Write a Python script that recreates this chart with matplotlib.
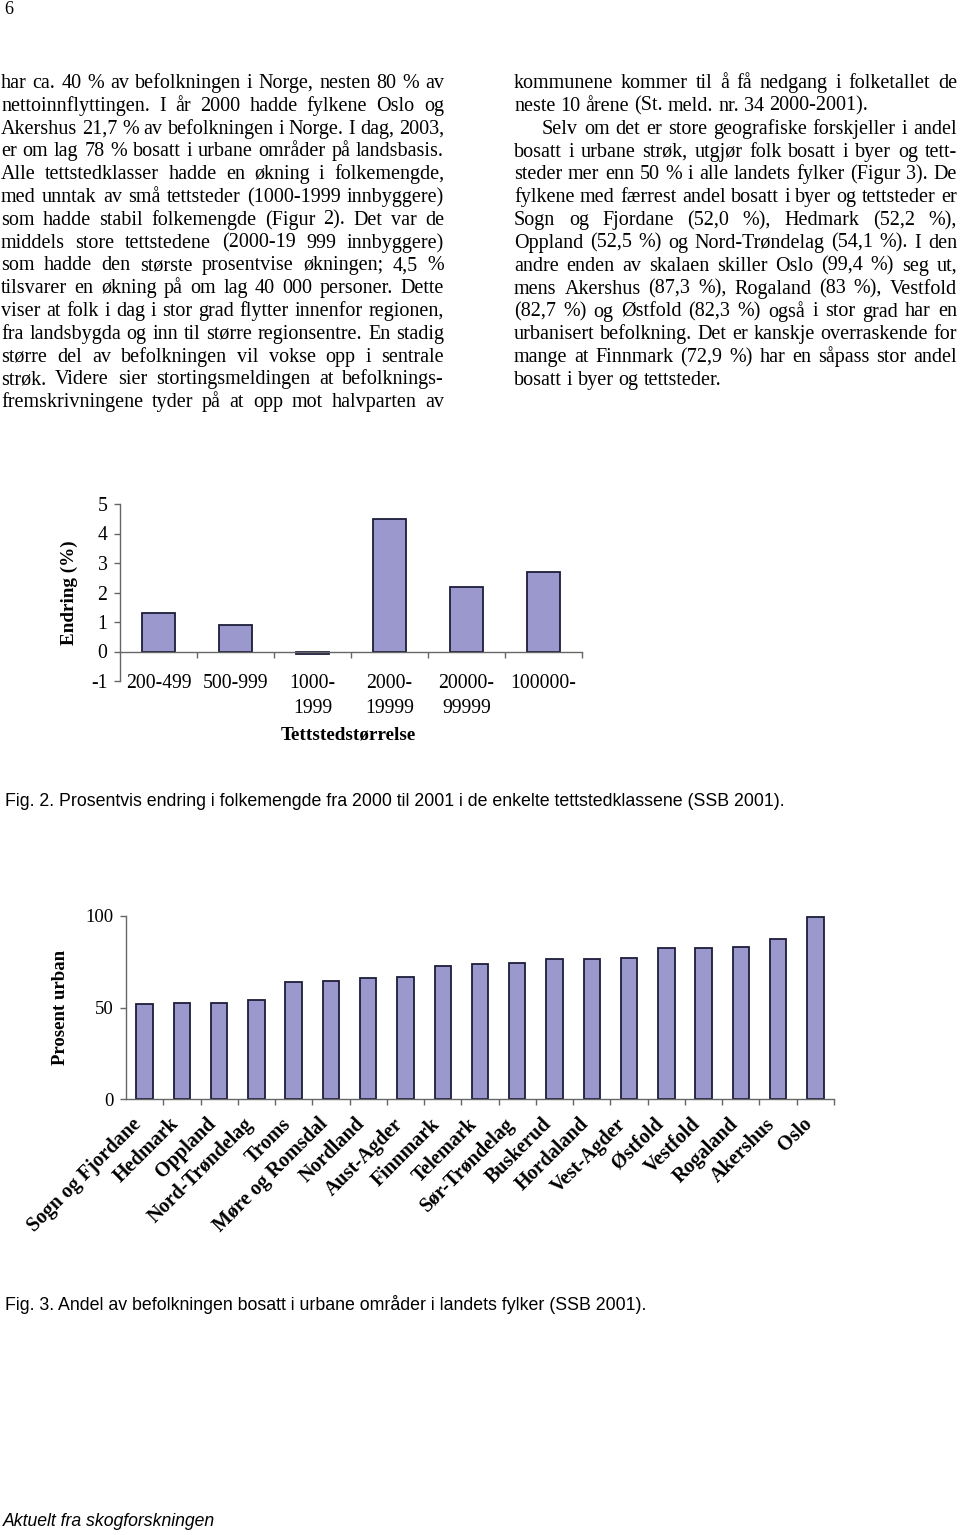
import matplotlib
matplotlib.use('Agg')
import matplotlib.pyplot as plt
import matplotlib.transforms as mtrans
import numpy as np

# --- data ---
klasser = ['200-499', '500-999', '1000-\n1999', '2000-\n19999', '20000-\n99999', '100000-']
endring = [1.3, 0.9, -0.1, 4.5, 2.2, 2.7]

fylker = ['Sogn og Fjordane', 'Hedmark', 'Oppland', 'Nord-Trøndelag', 'Troms',
          'Møre og Romsdal', 'Nordland', 'Aust-Agder', 'Finnmark', 'Telemark',
          'Sør-Trøndelag', 'Buskerud', 'Hordaland', 'Vest-Agder', 'Østfold',
          'Vestfold', 'Rogaland', 'Akershus', 'Oslo']
urban = [52.0, 52.2, 52.5, 54.1, 63.8, 64.5, 66.0, 66.8, 72.9, 73.8,
         74.3, 76.3, 76.3, 77.0, 82.3, 82.7, 83.0, 87.3, 99.4]

venstre = [
    "har ca. 40 % av befolkningen i Norge, nesten 80 % av",
    "nettoinnflyttingen. I år 2000 hadde fylkene Oslo og",
    "Akershus 21,7 % av befolkningen i Norge. I dag, 2003,",
    "er om lag 78 % bosatt i urbane områder på landsbasis.",
    "Alle tettstedklasser hadde en økning i folkemengde,",
    "med unntak av små tettsteder (1000-1999 innbyggere)",
    "som hadde stabil folkemengde (Figur 2). Det var de",
    "middels store tettstedene (2000-19 999 innbyggere)",
    "som hadde den største prosentvise økningen; 4,5 %",
    "tilsvarer en økning på om lag 40 000 personer. Dette",
    "viser at folk i dag i stor grad flytter innenfor regionen,",
    "fra landsbygda og inn til større regionsentre. En stadig",
    "større del av befolkningen vil vokse opp i sentrale",
    "strøk. Videre sier stortingsmeldingen at befolknings-",
    "fremskrivningene tyder på at opp mot halvparten av",
]
hoyre = [
    "kommunene kommer til å få nedgang i folketallet de",
    "neste 10 årene (St. meld. nr. 34 2000-2001).",
    "Selv om det er store geografiske forskjeller i andel",
    "bosatt i urbane strøk, utgjør folk bosatt i byer og tett-",
    "steder mer enn 50 % i alle landets fylker (Figur 3). De",
    "fylkene med færrest andel bosatt i byer og tettsteder er",
    "Sogn og Fjordane (52,0 %), Hedmark (52,2 %),",
    "Oppland (52,5 %) og Nord-Trøndelag (54,1 %). I den",
    "andre enden av skalaen skiller Oslo (99,4 %) seg ut,",
    "mens Akershus (87,3 %), Rogaland (83 %), Vestfold",
    "(82,7 %) og Østfold (82,3 %) også i stor grad har en",
    "urbanisert befolkning. Det er kanskje overraskende for",
    "mange at Finnmark (72,9 %) har en såpass stor andel",
    "bosatt i byer og tettsteder.",
]
hoyre_venstrejustert = [1, 13]
hoyre_innrykk = [2]

fig2_tekst = "Fig. 2. Prosentvis endring i folkemengde fra 2000 til 2001 i de enkelte tettstedklassene (SSB 2001)."
fig3_tekst = "Fig. 3. Andel av befolkningen bosatt i urbane områder i landets fylker (SSB 2001)."

W, H = 960, 1535
plt.rcParams['font.family'] = 'Liberation Serif'
plt.rcParams['axes.unicode_minus'] = False

fig = plt.figure(figsize=(W / 100, H / 100), dpi=100)
fig.patch.set_facecolor('white')


def fx(x):
    return x / W


def fy(y):
    return 1 - y / H


renderer = fig.canvas.get_renderer()
TS = 14.5


def bredde(s):
    t = fig.text(0, 0, s, fontsize=TS)
    w = t.get_window_extent(renderer).width
    t.remove()
    return w


mellomrom = bredde('x x') - bredde('xx')


def linje(tekst, x0, x1, y, juster):
    # blokkjustert linje: ordene plasseres enkeltvis
    ord_ = tekst.split()
    b = [bredde(o) for o in ord_]
    if juster and len(ord_) > 1:
        gap = (x1 - x0 - sum(b)) / (len(ord_) - 1)
    else:
        gap = mellomrom
    x = x0
    for o, w in zip(ord_, b):
        fig.text(fx(x), fy(y), o, fontsize=TS, va='baseline', ha='left')
        x += w + gap


for i, l in enumerate(venstre):
    linje(l, 1, 444, 88 + i * 22.8, True)

for i, l in enumerate(hoyre):
    x0 = 542 if i in hoyre_innrykk else 514
    linje(l, x0, 957, 88 + i * 22.85, i not in hoyre_venstrejustert)

fig.text(fx(4), fy(10), '6', fontsize=13, va='center', ha='left')

barfarge = '#9a98cc'
kantfarge = '#1c1c3a'
aksefarge = '#666666'

# --- Figur 2 ---
ax1 = fig.add_axes([fx(120), fy(681), (582 - 120) / W, (681 - 504) / H])
x1 = np.arange(len(klasser))
ax1.bar(x1, endring, width=0.42, color=barfarge, edgecolor=kantfarge, linewidth=1.3)
ax1.set_xlim(-0.5, len(klasser) - 0.5)
ax1.set_ylim(-1, 5)
ax1.spines['top'].set_visible(False)
ax1.spines['right'].set_visible(False)
ax1.spines['bottom'].set_position(('data', 0))
for s in ['left', 'bottom']:
    ax1.spines[s].set_color(aksefarge)
    ax1.spines[s].set_linewidth(1)
ax1.set_yticks(range(-1, 6))
ax1.tick_params(axis='y', direction='out', length=4, width=1, color=aksefarge, pad=5, labelsize=14.2)
ax1.set_xticks(x1)
ax1.set_xticklabels(klasser, fontsize=14.2, linespacing=1.45)
ax1.set_xticks(np.arange(0.5, len(klasser), 1), minor=True)
ax1.tick_params(axis='x', which='major', length=0, pad=16)
ax1.tick_params(axis='x', which='minor', direction='out', length=4, width=1, color=aksefarge)
ax1.set_ylabel('Endring (%)', fontsize=13.8, fontweight='bold')
ax1.yaxis.set_label_coords(-0.091, 0.5)
ax1.set_xlabel('Tettstedstørrelse', fontsize=13.8, fontweight='bold')
ax1.xaxis.label.set_va('center')
ax1.xaxis.set_label_coords(0.494, -0.305)

fig.text(fx(5), fy(801), fig2_tekst, family='Liberation Sans', fontsize=12.8, va='center', ha='left')

# --- Figur 3 ---
ax2 = fig.add_axes([fx(126), fy(1099), (834 - 126) / W, (1099 - 916) / H])
x2 = np.arange(len(fylker))
ax2.bar(x2, urban, width=0.44, color=barfarge, edgecolor=kantfarge, linewidth=1.3)
ax2.set_xlim(-0.5, len(fylker) - 0.5)
ax2.set_ylim(0, 100)
ax2.spines['top'].set_visible(False)
ax2.spines['right'].set_visible(False)
for s in ['left', 'bottom']:
    ax2.spines[s].set_color(aksefarge)
    ax2.spines[s].set_linewidth(1)
ax2.set_yticks([0, 50, 100])
ax2.tick_params(axis='y', direction='out', length=4, width=1, color=aksefarge, pad=5, labelsize=13.5)
ax2.set_xticks(x2)
ax2.set_xticklabels(fylker, fontsize=14.5, fontweight='bold', rotation=45,
                    ha='right', va='center', rotation_mode='anchor')
ax2.set_xticks(np.arange(0.5, len(fylker), 1), minor=True)
ax2.tick_params(axis='x', which='major', length=0, pad=16)
ax2.tick_params(axis='x', which='minor', direction='out', length=4, width=1, color=aksefarge)
forskyv = mtrans.ScaledTranslation(-6 / 100, 0, fig.dpi_scale_trans)
for lab in ax2.get_xticklabels():
    lab.set_transform(lab.get_transform() + forskyv)
ax2.set_ylabel('Prosent urban', fontsize=13.5, fontweight='bold')
ax2.yaxis.set_label_coords(-0.0805, 0.5)

fig.text(fx(5), fy(1304), fig3_tekst, family='Liberation Sans', fontsize=12.8, va='center', ha='left')

fig.text(fx(3), fy(1522), 'Aktuelt fra skogforskningen', family='Liberation Sans',
         style='italic', fontsize=12.7, va='center', ha='left')

fig.savefig('out.png', dpi=100, facecolor='white')
